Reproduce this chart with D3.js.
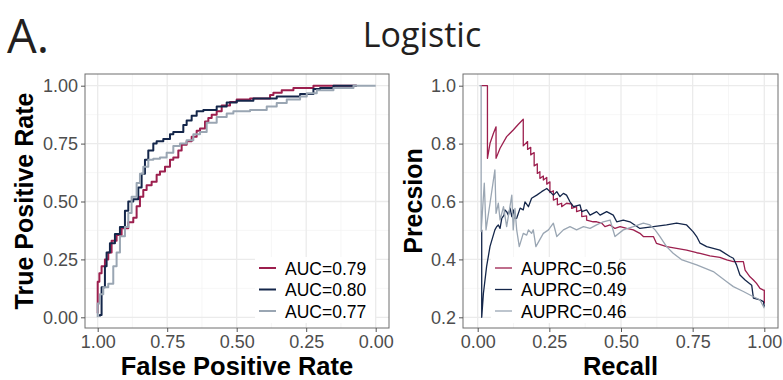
<!DOCTYPE html>
<html>
<head>
<meta charset="utf-8">
<script src="https://cdn.jsdelivr.net/npm/d3@7"></script>
<style>
  body { margin: 0; background: #fff; }
  svg { display: block; }
</style>
</head>
<body>
<div id="chart"></div>
<script>
// ROC curves: [specificity, sensitivity]
const rocRed = [[1.0,0.017],[0.994,0.154],[0.986,0.19],[0.974,0.22],[0.962,0.25],[0.950,0.28],[0.932,0.33],[0.914,0.355],[0.890,0.385],[0.872,0.41],[0.860,0.43],[0.848,0.48],[0.836,0.52],[0.824,0.55],[0.806,0.57],[0.788,0.585],[0.776,0.615],[0.758,0.63],[0.740,0.65],[0.728,0.68],[0.710,0.69],[0.698,0.72],[0.680,0.745],[0.662,0.76],[0.644,0.78],[0.632,0.805],[0.614,0.815],[0.602,0.845],[0.590,0.86],[0.572,0.875],[0.554,0.89],[0.524,0.915],[0.500,0.93],[0.452,0.94],[0.380,0.945],[0.368,0.96],[0.338,0.97],[0.296,0.98],[0.224,0.99],[0.212,1.0],[0.068,1.0]];
const rocNavy = [[0.992,0.003],[0.986,0.01],[0.986,0.10],[0.974,0.13],[0.968,0.22],[0.956,0.28],[0.938,0.32],[0.920,0.36],[0.902,0.39],[0.890,0.46],[0.872,0.50],[0.854,0.51],[0.842,0.56],[0.830,0.62],[0.818,0.68],[0.800,0.72],[0.788,0.75],[0.764,0.76],[0.740,0.77],[0.728,0.79],[0.692,0.80],[0.680,0.83],[0.662,0.85],[0.644,0.87],[0.620,0.89],[0.572,0.895],[0.536,0.91],[0.500,0.927],[0.440,0.935],[0.356,0.945],[0.272,0.953],[0.224,0.964],[0.200,0.986],[0.152,0.99],[0.068,1.0]];
const rocGrey = [[1.0,0.0],[0.992,0.06],[0.980,0.10],[0.962,0.13],[0.944,0.145],[0.932,0.22],[0.920,0.28],[0.902,0.35],[0.890,0.39],[0.878,0.45],[0.860,0.52],[0.848,0.58],[0.836,0.62],[0.818,0.65],[0.800,0.68],[0.776,0.685],[0.752,0.69],[0.728,0.71],[0.704,0.74],[0.680,0.75],[0.656,0.765],[0.632,0.79],[0.608,0.80],[0.572,0.84],[0.536,0.865],[0.512,0.88],[0.452,0.89],[0.392,0.895],[0.356,0.91],[0.320,0.925],[0.272,0.94],[0.248,0.953],[0.212,0.967],[0.152,0.98],[0.080,0.99],[0.0,1.0]];

// PR curves: [recall, precision]
const prRed = [[0.012,1.0],[0.034,1.0],[0.034,0.749],[0.043,0.801],[0.055,0.836],[0.064,0.858],[0.064,0.749],[0.078,0.784],[0.101,0.824],[0.124,0.847],[0.142,0.867],[0.159,0.884],[0.159,0.792],[0.174,0.807],[0.174,0.780],[0.185,0.787],[0.185,0.761],[0.197,0.769],[0.197,0.723],[0.208,0.730],[0.208,0.697],[0.217,0.703],[0.217,0.680],[0.229,0.688],[0.229,0.674],[0.241,0.683],[0.241,0.660],[0.252,0.668],[0.252,0.631],[0.264,0.637],[0.264,0.605],[0.278,0.611],[0.278,0.588],[0.293,0.594],[0.293,0.582],[0.310,0.594],[0.328,0.591],[0.328,0.576],[0.345,0.582],[0.345,0.565],[0.363,0.571],[0.363,0.548],[0.380,0.550],[0.380,0.536],[0.403,0.530],[0.415,0.530],[0.433,0.525],[0.444,0.513],[0.462,0.519],[0.479,0.507],[0.497,0.513],[0.520,0.507],[0.543,0.502],[0.566,0.490],[0.578,0.479],[0.613,0.479],[0.624,0.455],[0.659,0.444],[0.694,0.438],[0.729,0.432],[0.764,0.423],[0.776,0.421],[0.810,0.412],[0.845,0.407],[0.869,0.398],[0.892,0.392],[0.927,0.392],[0.933,0.363],[0.950,0.340],[0.962,0.329],[0.973,0.317],[0.985,0.300],[0.997,0.294],[1.0,0.294],[1.0,0.248]];
const prNavy = [[0.014,0.502],[0.014,0.2],[0.020,0.283],[0.031,0.375],[0.043,0.445],[0.060,0.502],[0.066,0.513],[0.072,0.519],[0.078,0.507],[0.084,0.542],[0.092,0.553],[0.095,0.571],[0.101,0.565],[0.107,0.553],[0.113,0.577],[0.119,0.548],[0.124,0.571],[0.130,0.542],[0.136,0.542],[0.148,0.577],[0.159,0.571],[0.165,0.599],[0.177,0.582],[0.188,0.611],[0.206,0.622],[0.223,0.634],[0.241,0.645],[0.252,0.634],[0.264,0.622],[0.276,0.634],[0.287,0.617],[0.299,0.628],[0.310,0.622],[0.322,0.599],[0.334,0.582],[0.357,0.588],[0.363,0.565],[0.380,0.571],[0.392,0.553],[0.415,0.565],[0.427,0.553],[0.450,0.565],[0.473,0.553],[0.485,0.530],[0.508,0.536],[0.531,0.530],[0.566,0.507],[0.613,0.513],[0.659,0.519],[0.694,0.525],[0.729,0.519],[0.752,0.495],[0.764,0.479],[0.776,0.456],[0.799,0.444],[0.845,0.432],[0.880,0.410],[0.892,0.404],[0.903,0.381],[0.915,0.346],[0.933,0.329],[0.956,0.311],[0.962,0.266],[0.985,0.260],[0.997,0.254],[1.0,0.237]];
const prGrey = [[0.006,1.0],[0.012,1.0],[0.012,0.496],[0.023,0.663],[0.029,0.502],[0.043,0.594],[0.060,0.709],[0.064,0.559],[0.072,0.594],[0.078,0.536],[0.090,0.582],[0.101,0.513],[0.119,0.622],[0.124,0.502],[0.130,0.576],[0.136,0.502],[0.145,0.444],[0.159,0.490],[0.171,0.484],[0.177,0.502],[0.188,0.490],[0.194,0.502],[0.203,0.444],[0.229,0.490],[0.247,0.502],[0.264,0.525],[0.276,0.479],[0.299,0.502],[0.322,0.513],[0.345,0.502],[0.369,0.513],[0.392,0.507],[0.415,0.519],[0.438,0.530],[0.462,0.536],[0.479,0.479],[0.508,0.502],[0.543,0.513],[0.578,0.525],[0.601,0.519],[0.619,0.502],[0.636,0.479],[0.659,0.444],[0.682,0.421],[0.713,0.398],[0.764,0.381],[0.822,0.358],[0.869,0.323],[0.892,0.306],[0.927,0.289],[0.962,0.271],[0.985,0.260],[1.0,0.231]];

const rocSeries = [rocRed, rocNavy, rocGrey];
const prSeries = [prRed, prNavy, prGrey];
const colors = ["#9c1f4e", "#14264a", "#9aa6b3"];
const aucLabels = ["AUC=0.79", "AUC=0.80", "AUC=0.77"];
const auprcLabels = ["AUPRC=0.56", "AUPRC=0.49", "AUPRC=0.46"];
const rocTicks = [0, 0.25, 0.5, 0.75, 1];
const rocMinor = [0.125, 0.375, 0.625, 0.875];
const prXTicks = [0, 0.25, 0.5, 0.75, 1];
const prXMinor = [0.125, 0.375, 0.625, 0.875];
const prYTicks = [0.2, 0.4, 0.6, 0.8, 1.0];
const prYMinor = [0.3, 0.5, 0.7, 0.9];

const width = 783, height = 380;
const svg = d3.select("#chart").append("svg")
    .attr("width", width)
    .attr("height", height);

const sansFont = "'Liberation Sans', Arial, sans-serif";
const titleFont = "'Open Sans', 'Noto Sans', sans-serif";

svg.append("text")
    .attr("x", 7).attr("y", 53)
    .attr("font-family", titleFont)
    .attr("font-size", 47)
    .attr("fill", "#231f20")
    .text("A.");

svg.append("text")
    .attr("x", 422).attr("y", 47)
    .attr("text-anchor", "middle")
    .attr("font-family", titleFont)
    .attr("font-size", 34)
    .attr("fill", "#231f20")
    .text("Logistic");

function drawPanel(opts) {
    const g = svg.append("g");
    const x = opts.x, y = opts.y;
    const [x0, x1] = opts.box[0], [y0, y1] = opts.box[1];

    g.append("rect")
        .attr("x", x0).attr("y", y0)
        .attr("width", x1 - x0).attr("height", y1 - y0)
        .attr("fill", "#fff");

    // grid
    g.selectAll(".gxm").data(opts.xMinor).enter().append("line")
        .attr("x1", d => x(d)).attr("x2", d => x(d))
        .attr("y1", y0).attr("y2", y1)
        .attr("stroke", "#f2f2f2").attr("stroke-width", 0.7);
    g.selectAll(".gym").data(opts.yMinor).enter().append("line")
        .attr("y1", d => y(d)).attr("y2", d => y(d))
        .attr("x1", x0).attr("x2", x1)
        .attr("stroke", "#f2f2f2").attr("stroke-width", 0.7);
    g.selectAll(".gx").data(opts.xTicks).enter().append("line")
        .attr("x1", d => x(d)).attr("x2", d => x(d))
        .attr("y1", y0).attr("y2", y1)
        .attr("stroke", "#ebebeb").attr("stroke-width", 1.3);
    g.selectAll(".gy").data(opts.yTicks).enter().append("line")
        .attr("y1", d => y(d)).attr("y2", d => y(d))
        .attr("x1", x0).attr("x2", x1)
        .attr("stroke", "#ebebeb").attr("stroke-width", 1.3);

    // curves
    const line = d3.line()
        .x(d => x(d[0]))
        .y(d => y(d[1]))
        .curve(opts.curve);
    opts.series.forEach((s, i) => {
        g.append("path")
            .datum(s)
            .attr("d", line)
            .attr("fill", "none")
            .attr("stroke", colors[i])
            .attr("stroke-width", opts.lineWidth)
            .attr("stroke-linejoin", "round");
    });

    // legend
    const lg = g.append("g");
    lg.append("rect")
        .attr("x", opts.legend.x - 4).attr("y", opts.legend.y - 11)
        .attr("width", opts.legend.w).attr("height", 66)
        .attr("fill", "#fff");
    opts.labels.forEach((lab, i) => {
        const ly = opts.legend.y + i * 21.5;
        lg.append("line")
            .attr("x1", opts.legend.x).attr("x2", opts.legend.x + 17)
            .attr("y1", ly).attr("y2", ly)
            .attr("stroke", colors[i])
            .attr("stroke-width", opts.lineWidth);
        lg.append("text")
            .attr("x", opts.legend.x + 26).attr("y", ly + 6.5)
            .attr("font-family", sansFont)
            .attr("font-size", 17.5)
            .attr("fill", "#000")
            .text(lab);
    });

    // border
    g.append("rect")
        .attr("x", x0).attr("y", y0)
        .attr("width", x1 - x0).attr("height", y1 - y0)
        .attr("fill", "none")
        .attr("stroke", "#6e6e6e").attr("stroke-width", 1);

    // axes
    const xAxis = g.append("g")
        .attr("transform", `translate(0,${y1})`)
        .call(d3.axisBottom(x).tickValues(opts.xTicks).tickFormat(d3.format(".2f")).tickSize(4).tickPadding(3));
    const yAxis = g.append("g")
        .attr("transform", `translate(${x0},0)`)
        .call(d3.axisLeft(y).tickValues(opts.yTicks).tickFormat(d3.format(opts.yFormat)).tickSize(4).tickPadding(3));
    [xAxis, yAxis].forEach(a => {
        a.select(".domain").remove();
        a.selectAll(".tick line").attr("stroke", "#555");
        a.selectAll(".tick text")
            .attr("font-family", sansFont)
            .attr("font-size", 18)
            .attr("fill", "#4d4d4d");
    });

    svg.append("text")
        .attr("x", (x1 + x0) / 2 + opts.xTitleShift).attr("y", 375)
        .attr("text-anchor", "middle")
        .attr("font-family", sansFont)
        .attr("font-weight", "bold")
        .attr("font-size", 25.5)
        .text(opts.xTitle);
    svg.append("text")
        .attr("transform", `translate(${opts.yTitleX},${(y0 + y1) / 2}) rotate(-90)`)
        .attr("text-anchor", "middle")
        .attr("font-family", sansFont)
        .attr("font-weight", "bold")
        .attr("font-size", 25)
        .text(opts.yTitle);
}

drawPanel({
    x: d3.scaleLinear().domain([1, 0]).range([97.7, 375.7]),
    y: d3.scaleLinear().domain([0, 1]).range([317.3, 85.7]),
    box: [[85, 389], [74, 328]],
    xTicks: rocTicks.slice().reverse(), yTicks: rocTicks,
    xMinor: rocMinor, yMinor: rocMinor,
    yFormat: ".2f",
    series: rocSeries,
    curve: d3.curveStepBefore,
    lineWidth: 2,
    labels: aucLabels,
    legend: { x: 259, y: 268, w: 120 },
    xTitle: "False Positive Rate", xTitleShift: 0,
    yTitle: "True Positive Rate", yTitleX: 33
});

drawPanel({
    x: d3.scaleLinear().domain([0, 1]).range([477.7, 764.3]),
    y: d3.scaleLinear().domain([0.2, 1.0]).range([317.3, 85.7]),
    box: [[463, 778], [74, 328]],
    xTicks: prXTicks, yTicks: prYTicks,
    xMinor: prXMinor, yMinor: prYMinor,
    yFormat: ".1f",
    series: prSeries,
    curve: d3.curveLinear,
    lineWidth: 1.3,
    labels: auprcLabels,
    legend: { x: 495, y: 268, w: 128 },
    xTitle: "Recall", xTitleShift: 0,
    yTitle: "Precsion", yTitleX: 422
});
</script>
</body>
</html>
